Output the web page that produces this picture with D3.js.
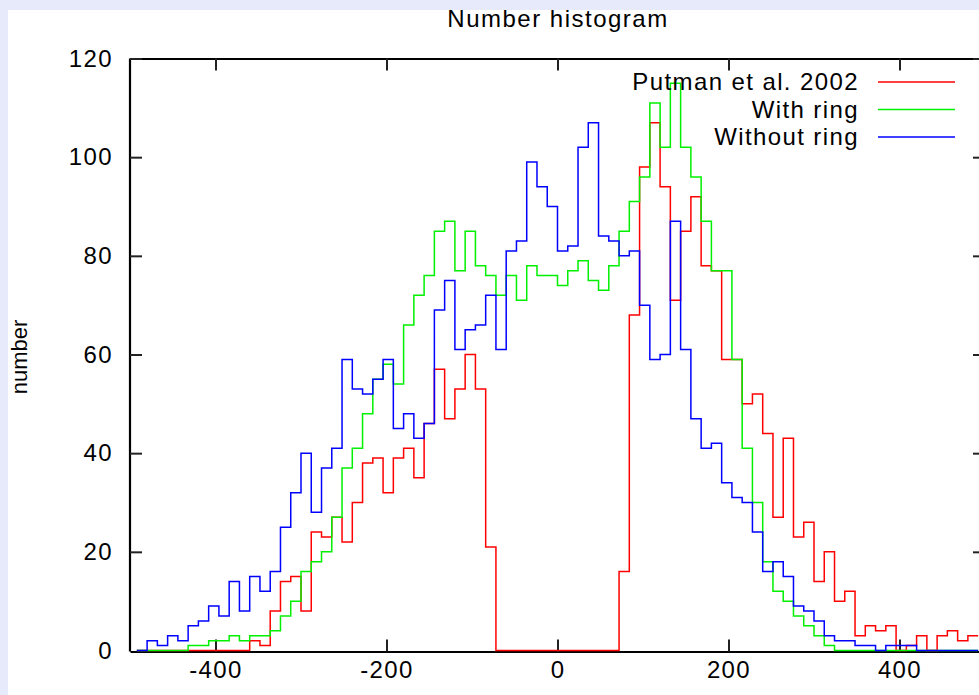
<!DOCTYPE html>
<html><head><meta charset="utf-8">
<script src="https://cdn.jsdelivr.net/npm/d3@7"></script>
<style>
html,body{margin:0;padding:0;background:#e6eafa;}
svg{display:block;}
text{font-family:"Liberation Sans",Arial,Helvetica,sans-serif;fill:#000;}
</style></head><body>
<svg id="c" width="979" height="695"></svg>
<script>
// bin centres (width 12)
const binCenters = [-486,-474,-462,-450,-438,-426,-414,-402,-390,-378,-366,-354,-342,-330,-318,-306,-294,-282,-270,-258,-246,-234,-222,-210,-198,-186,-174,-162,-150,-138,-126,-114,-102,-90,-78,-66,-54,-42,-30,-18,-6,6,18,30,42,54,66,78,90,102,114,126,138,150,162,174,186,198,210,222,234,246,258,270,282,294,306,318,330,342,354,366,378,390,402,414,426,438,450,462,474,486];
const putman = [0,0,0,0,0,0,0,0,0,0,0,
  2,1,8,14,15,8,24,23,27,22,
  30,38,39,32,39,41,35,46,57,47,
  53,60,53,21,0,0,0,0,0,0,
  0,0,0,0,0,0,16,68,98,107,
  94,71,85,92,78,77,59,59,50,52,
  44,27,43,23,26,14,20,10,12,3,
  5,4,5,0,1,3,0,3,4,2,3];
const withRing = [0,0,0,0,0,1,1,2,2,3,2,
  3,3,4,7,10,16,18,20,27,37,
  41,48,55,58,54,66,72,76,85,87,
  77,85,78,76,72,76,71,78,76,76,
  74,77,79,75,73,78,85,91,96,111,
  102,115,102,96,87,77,77,59,41,30,
  18,12,10,7,5,3,1,0,0,0,
  0,0,0,0,0,0,0,0,0,0,0];
const withoutRing = [0,2,1,3,2,5,6,9,7,14,8,
  15,12,16,25,32,40,28,37,41,59,
  53,52,55,59,45,48,43,46,69,75,
  61,65,66,72,61,81,83,99,94,90,
  81,82,102,107,84,83,80,81,70,59,
  60,87,61,47,41,42,34,31,30,24,
  16,18,15,9,8,6,3,2,2,1,
  1,0,1,1,1,0,0,0,0,0,0];
const binWidth = 12;
const xTicks = [-400,-200,0,200,400];
const yTicks = [0,20,40,60,80,100,120];
const seriesNames = ["Putman et al. 2002","With ring","Without ring"];
const seriesColors = ["#ff0000","#00f000","#0000ff"];
const seriesData = [putman, withRing, withoutRing];

const W = 979, H = 695;
const svg = d3.select("#c");
svg.append("rect").attr("x",0).attr("y",0).attr("width",W).attr("height",H).attr("fill","#e6eafa");
svg.append("rect").attr("x",8).attr("y",10).attr("width",W-8).attr("height",H-10).attr("fill","#ffffff");

const x = d3.scaleLinear().domain([-500,500]).range([130,985]);
const y = d3.scaleLinear().domain([0,120]).range([650.5,58.5]);
const yBase = 651.5;

svg.append("clipPath").attr("id","plotclip").append("rect")
  .attr("x",130).attr("y",58).attr("width",855).attr("height",596);

const fs = 24, ls = "1.4px";
const fmt = d => String(d);
const gB = svg.append("g").attr("transform",`translate(0,${yBase})`)
  .call(d3.axisBottom(x).tickValues(xTicks).tickSizeInner(-12).tickSizeOuter(0).tickPadding(9).tickFormat(fmt));
const gT = svg.append("g").attr("transform",`translate(0,58.5)`)
  .call(d3.axisTop(x).tickValues(xTicks).tickSizeInner(-12).tickSizeOuter(0).tickFormat(""));
const gL = svg.append("g").attr("transform",`translate(130,0)`)
  .call(d3.axisLeft(y).tickValues(yTicks).tickSizeInner(-12).tickSizeOuter(0).tickPadding(17).tickFormat(fmt));
const gR = svg.append("g").attr("transform",`translate(985,0)`)
  .call(d3.axisRight(y).tickValues(yTicks).tickSizeInner(-12).tickSizeOuter(0).tickFormat(""));
[gB,gT,gL,gR].forEach(g=>{
  g.select(".domain").attr("stroke","#000").attr("stroke-width",2.2);
  g.selectAll(".tick line").attr("stroke","#222").attr("stroke-width",2);
  g.selectAll(".tick text").attr("font-size",fs).attr("letter-spacing",ls)
    .attr("font-family","'Liberation Sans',Arial,sans-serif").attr("fill","#000");
});
gL.select(".domain").attr("d",`M0,${yBase}V58.5`);
gR.select(".domain").attr("d",`M0,${yBase}V58.5`);
gL.selectAll(".tick").filter(d=>d===0).select("line").remove();
gR.selectAll(".tick").filter(d=>d===0).select("line").remove();

// series (histogram steps)
const line = d3.line().x(d=>x(d[0])).y(d=>y(d[1])).curve(d3.curveStepAfter);
const plot = svg.append("g").attr("clip-path","url(#plotclip)");
seriesData.forEach((vals,i)=>{
  const pts = binCenters.map((c,j)=>[c-binWidth/2, vals[j]]);
  pts.push([binCenters[binCenters.length-1]+binWidth/2, vals[vals.length-1]]);
  plot.append("path").attr("d",line(pts)).attr("fill","none")
    .attr("stroke",seriesColors[i]).attr("stroke-width",1.5).attr("stroke-linejoin","miter");
});

// title
svg.append("text").attr("x",558).attr("y",27).attr("text-anchor","middle")
  .attr("font-size",24).attr("letter-spacing","1.5px").text("Number histogram");
// y label
svg.append("text").attr("transform","translate(27,357) rotate(-90)").attr("text-anchor","middle")
  .attr("font-size",22).text("number");

// legend
const legY = [82,109.5,137];
seriesNames.forEach((n,i)=>{
  svg.append("text").attr("x",859).attr("y",legY[i]).attr("dy","0.35em").attr("text-anchor","end")
    .attr("font-size",fs).attr("letter-spacing",ls).text(n);
  svg.append("line").attr("x1",878).attr("x2",955).attr("y1",legY[i]).attr("y2",legY[i])
    .attr("stroke",seriesColors[i]).attr("stroke-width",1.5);
});
</script>
</body></html>
